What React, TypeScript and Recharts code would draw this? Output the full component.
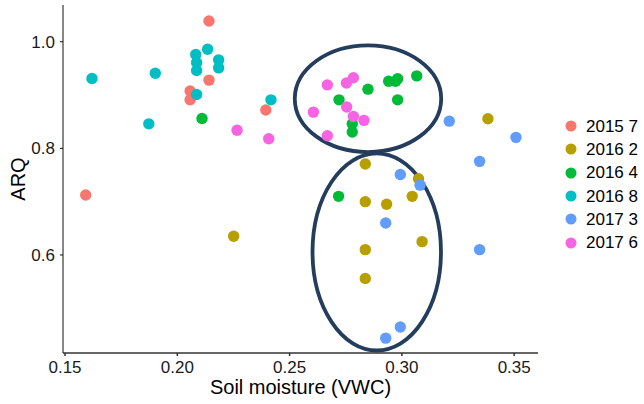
import { ScatterChart, Scatter, XAxis, YAxis, ReferenceArea } from 'recharts'

// series values (soil moisture VWC, ARQ)
const s2015_7 = [
  { x: 0.2141, y: 1.039 }, { x: 0.2141, y: 0.928 }, { x: 0.2057, y: 0.9075 },
  { x: 0.2057, y: 0.891 }, { x: 0.2394, y: 0.872 }, { x: 0.1592, y: 0.7124 },
]
const s2016_2 = [
  { x: 0.2837, y: 0.7705 }, { x: 0.3074, y: 0.743 }, { x: 0.3383, y: 0.8556 },
  { x: 0.3046, y: 0.71 }, { x: 0.309, y: 0.625 }, { x: 0.2251, y: 0.635 },
  { x: 0.2837, y: 0.7 }, { x: 0.2932, y: 0.695 }, { x: 0.2837, y: 0.61 },
  { x: 0.2837, y: 0.556 },
]
const s2016_4 = [
  { x: 0.211, y: 0.856 }, { x: 0.2849, y: 0.911 }, { x: 0.2941, y: 0.926 },
  { x: 0.2981, y: 0.9306 }, { x: 0.2972, y: 0.9257 }, { x: 0.3066, y: 0.936 },
  { x: 0.272, y: 0.891 }, { x: 0.2981, y: 0.891 }, { x: 0.2779, y: 0.846 },
  { x: 0.2779, y: 0.8306 }, { x: 0.2718, y: 0.71 },
]
const s2016_8 = [
  { x: 0.2135, y: 0.986 }, { x: 0.2082, y: 0.976 }, { x: 0.2086, y: 0.961 },
  { x: 0.2086, y: 0.946 }, { x: 0.2184, y: 0.966 }, { x: 0.2184, y: 0.951 },
  { x: 0.162, y: 0.931 }, { x: 0.1902, y: 0.941 }, { x: 0.2086, y: 0.901 },
  { x: 0.1873, y: 0.846 }, { x: 0.2417, y: 0.891 },
]
const s2017_3 = [
  { x: 0.3211, y: 0.851 }, { x: 0.2993, y: 0.751 }, { x: 0.3508, y: 0.8206 },
  { x: 0.3346, y: 0.7756 }, { x: 0.3081, y: 0.731 }, { x: 0.3346, y: 0.61 },
  { x: 0.2928, y: 0.66 }, { x: 0.2993, y: 0.465 }, { x: 0.2928, y: 0.444 },
]
const s2017_6 = [
  { x: 0.2266, y: 0.834 }, { x: 0.2407, y: 0.818 }, { x: 0.2668, y: 0.919 },
  { x: 0.2753, y: 0.9225 }, { x: 0.2784, y: 0.9325 }, { x: 0.2606, y: 0.868 },
  { x: 0.2754, y: 0.8775 }, { x: 0.2784, y: 0.86 }, { x: 0.2831, y: 0.8525 },
  { x: 0.2668, y: 0.8236 },
]

const seriesNames = ['2015 7', '2016 2', '2016 4', '2016 8', '2017 3', '2017 6']
const seriesData = [s2015_7, s2016_2, s2016_4, s2016_8, s2017_3, s2017_6]
const colors = ['#F8766D', '#B79F00', '#00BA38', '#00BFC4', '#619CFF', '#F564E3']

const xTicks = [0.15, 0.2, 0.25, 0.3, 0.35]
const yTicks = [0.6, 0.8, 1.0]

// highlighted groups (data bounds of each ellipse)
const ellipses = [
  { x1: 0.2523, x2: 0.3175, y1: 0.7931, y2: 0.9932 },
  { x1: 0.2602, x2: 0.3174, y1: 0.4208, y2: 0.7906 },
]

const font = '"Liberation Sans", Arial, Helvetica, sans-serif'

const Dot = (props: any) => (
  <circle cx={props.cx} cy={props.cy} r={5.7} fill={props.fill} />
)

const EllipseShape = (props: any) => {
  const { x, y, width, height } = props
  return (
    <ellipse
      cx={x + width / 2}
      cy={y + height / 2}
      rx={width / 2}
      ry={height / 2}
      fill="none"
      stroke="#253D5D"
      strokeWidth={3.8}
    />
  )
}

const YLabel = (props: any) => {
  const vb = props.viewBox
  const cy = vb.y + vb.height / 2
  return (
    <text x={25} y={cy} transform={`rotate(-90 25 ${cy})`} textAnchor="middle"
      fontSize={20} fill="#000" fontFamily={font}>ARQ</text>
  )
}

export default function App() {
  return (
    <div style={{ position: 'absolute', left: 0, top: 0, width: 644, height: 404, background: '#fff', fontFamily: font }}>
      <ScatterChart width={644} height={404} margin={{ top: 5, right: 106, bottom: 0, left: 0 }}>
        <XAxis
          type="number"
          dataKey="x"
          domain={[0.1491, 0.3606]}
          allowDataOverflow
          ticks={xTicks}
          tickFormatter={(v: number) => v.toFixed(2)}
          height={51}
          tickSize={3}
          tickMargin={5}
          stroke="#333"
          strokeWidth={1.5}
          tick={{ fill: '#1a1a1a', fontSize: 17, fontFamily: font }}
          label={{ value: 'Soil moisture (VWC)', position: 'insideBottom', offset: 10, fontSize: 20, fill: '#000', fontFamily: font }}
        />
        <YAxis
          type="number"
          dataKey="y"
          domain={[0.4161, 1.0689]}
          allowDataOverflow
          ticks={yTicks}
          tickFormatter={(v: number) => v.toFixed(1)}
          width={63}
          tickSize={3}
          tickMargin={5}
          stroke="#111"
          tick={{ fill: '#1a1a1a', fontSize: 17, fontFamily: font }}
          label={{ content: YLabel }}
        />
        {seriesData.map((d, i) => (
          <Scatter
            key={seriesNames[i]}
            name={seriesNames[i]}
            data={d}
            fill={colors[i]}
            shape={Dot}
            isAnimationActive={false}
          />
        ))}
        {ellipses.map((e, i) => (
          <ReferenceArea key={i} x1={e.x1} x2={e.x2} y1={e.y1} y2={e.y2} shape={EllipseShape} />
        ))}
      </ScatterChart>
      <div style={{ position: 'absolute', left: 565, top: 114.5 }}>
        {seriesNames.map((n, i) => (
          <div key={n} style={{ display: 'flex', alignItems: 'center', height: 23.3 }}>
            <svg width={12} height={12} style={{ marginRight: 9 }}>
              <circle cx={6} cy={6} r={5.5} fill={colors[i]} />
            </svg>
            <span style={{ fontSize: 17, color: '#000', lineHeight: '23px' }}>{n}</span>
          </div>
        ))}
      </div>
    </div>
  )
}
